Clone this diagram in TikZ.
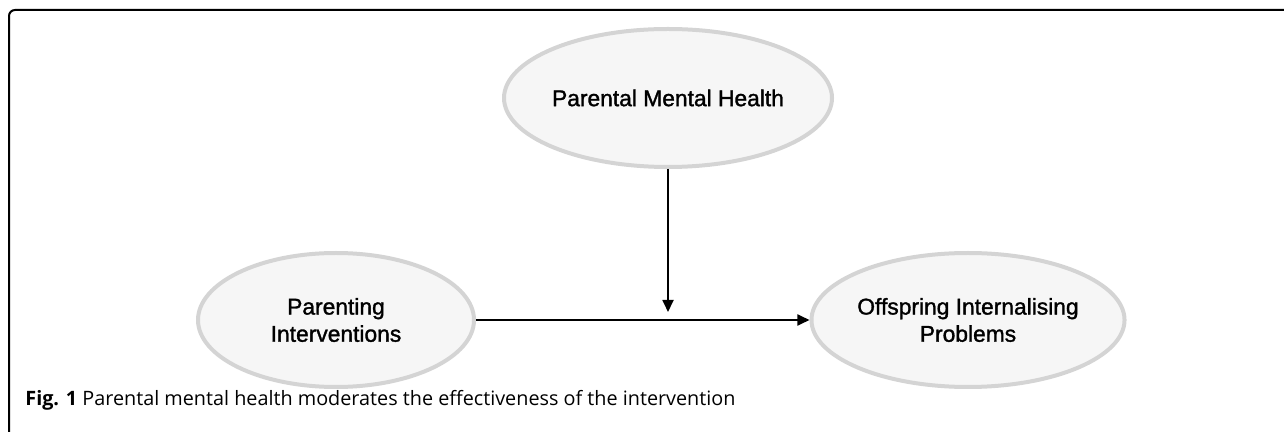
\documentclass[tikz,border=0pt]{standalone}
\usepackage{fontspec}
\setmainfont{Liberation Sans}
\newfontfamily\ovalfont[FakeBold=1.4]{Liberation Sans}
\newfontfamily\captionfont{Open Sans}
\usepackage{tikz}
\usetikzlibrary{
	arrows.meta,
	positioning,
	shapes.geometric
}
\usepackage{xcolor}
\definecolor{ovalfill}{HTML}{F6F6F6}
\definecolor{ovaldraw}{HTML}{D4D4D4}

\begin{document}
\begin{tikzpicture}[x=0.5pt,y=-0.5pt,
		oval/.style={ellipse,draw=ovaldraw,fill=ovalfill,line width=2pt,
			minimum width=138pt,minimum height=67pt,inner sep=0pt,
			align=center,font=\ovalfont\fontsize{11.4}{13.6}\selectfont},
		link/.style={line width=0.9pt,-{Triangle[length=6pt,width=5.5pt]}}
	]
		
		\useasboundingbox (0,0) rectangle (1284,432);
		
		% frame
		\draw[line width=1pt,rounded corners=3pt] (9,432) -- (9,10) -- (1284,10);
		
		\node[oval,minimum height=69pt] (pmh) at (668,98) {Parental Mental Health};
		\node[oval] (pi) at (336,320) {Parenting\\Interventions};
		\node[oval] (oip) at (968,320) {Offspring Internalising\\Problems};
		
		\coordinate (mod) at (668,312);
		
		\draw[link] (pi) -- (oip);
		\draw[link] (pmh) -- (mod);
		
		\node[anchor=west,font=\captionfont\fontsize{9.9}{11}\selectfont,inner sep=0pt] (cap) at (25,400)
		{\textbf{Fig. 1} Parental mental health moderates the effectiveness of the intervention};
		
	\end{tikzpicture}
\end{document}
